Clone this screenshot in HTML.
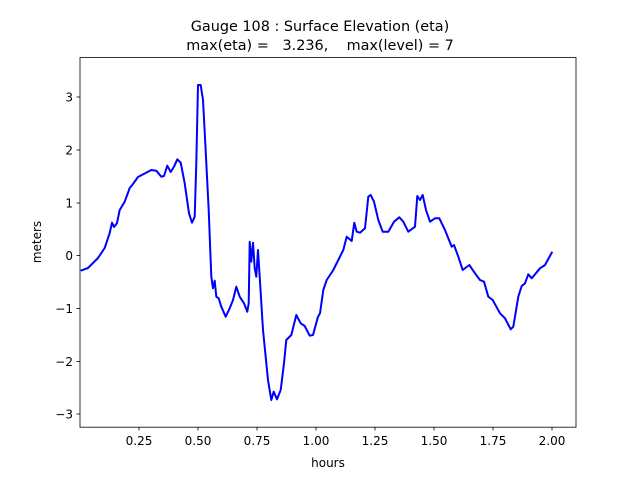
<!DOCTYPE html>
<html><head><style>
body{margin:0;background:#fff}
svg{display:block}
text{font-family:"DejaVu Sans","Liberation Sans",sans-serif;fill:#000}
</style></head><body>
<svg width="640" height="480" xmlns="http://www.w3.org/2000/svg">
<rect width="640" height="480" fill="#fff"/>
<text x="320" y="31" font-size="14.4" text-anchor="middle">Gauge 108 : Surface Elevation (eta)</text>
<text x="320" y="50" font-size="14.4" text-anchor="middle" xml:space="preserve">max(eta) =   3.236,    max(level) = 7</text>
<g stroke="#000" stroke-width="0.8">
<line x1="139" y1="427" x2="139" y2="430.5"/><line x1="198" y1="427" x2="198" y2="430.5"/><line x1="257" y1="427" x2="257" y2="430.5"/><line x1="316" y1="427" x2="316" y2="430.5"/><line x1="375" y1="427" x2="375" y2="430.5"/><line x1="434" y1="427" x2="434" y2="430.5"/><line x1="493" y1="427" x2="493" y2="430.5"/><line x1="552" y1="427" x2="552" y2="430.5"/>
<line x1="76.5" y1="97" x2="80" y2="97"/><line x1="76.5" y1="150" x2="80" y2="150"/><line x1="76.5" y1="203" x2="80" y2="203"/><line x1="76.5" y1="255.5" x2="80" y2="255.5"/><line x1="76.5" y1="308.5" x2="80" y2="308.5"/><line x1="76.5" y1="361.5" x2="80" y2="361.5"/><line x1="76.5" y1="414" x2="80" y2="414"/>
</g>
<g font-size="12" text-anchor="middle">
<text x="139" y="445">0.25</text><text x="198" y="445">0.50</text><text x="257" y="445">0.75</text><text x="316" y="445">1.00</text><text x="375" y="445">1.25</text><text x="434" y="445">1.50</text><text x="493" y="445">1.75</text><text x="552" y="445">2.00</text>
<text x="328" y="467">hours</text>
</g>
<g font-size="12" text-anchor="end">
<text x="73" y="101.5">3</text><text x="73" y="154.5">2</text><text x="73" y="207.5">1</text><text x="73" y="260">0</text><text x="73" y="313">−1</text><text x="73" y="366">−2</text><text x="73" y="418.5">−3</text>
</g>
<text transform="translate(41,242) rotate(-90)" font-size="12" text-anchor="middle">meters</text>
<polyline fill="none" stroke="#0000ff" stroke-width="2" stroke-linejoin="round" points="80.7,270.7 88,268 98,258 104.7,248 109.7,233 112,222.7 114,227 117,223 119.7,210 124.7,201.7 129.7,188 133,184 138,177 151.3,170 156.3,170.7 161.3,176.7 164,176 167.3,165.7 170.7,172 174,166.7 177.3,159.3 180.7,162.7 184.7,183.3 189,213.3 192,222.7 194.7,216.7 196.3,163.3 198,85 200.7,85 203,100 205.3,143.3 208.7,210 211.3,276.7 213,288.3 214.7,280.7 216.3,296.7 218.7,298.3 221.3,306.7 225.7,316.7 229.7,308.3 233,300 236.3,286.7 239.7,296.7 244,303.3 247.3,311.7 248.7,303.3 249.7,241.7 251.3,261.7 253,242.7 254.7,268.3 256.3,276.7 258,250 259.7,276.7 263,330 268,380 271.3,400 273.7,391.7 277,399.3 280.7,390 284,363.3 286.3,340 291.3,335 296.3,315 300.7,323.3 304.7,326 309.7,335.7 313,335 318,316.7 320,313.3 323.3,290 326.7,280 333.3,270 343.3,250 346.7,236.7 351.7,241 354.3,222.7 356.7,231.7 360,232.7 365,228.3 368.3,196.7 370.7,195 374,201.7 378.3,220 382.7,231.7 388.3,231.7 394,221.7 399.3,217.3 403.3,221.7 408.3,231.7 415,226.7 417.3,196 420,200 422.7,195 426,210 430,221.7 435,218.3 439.3,218.3 445,230 451.7,246.7 454,245 458.3,256.7 462.7,270 469.3,265 475,273.3 480,280 484,281.7 488.3,296.7 492.7,300 500,313.3 505,318.3 510.7,329.3 513.3,326.7 518.3,296.7 521.7,286 525,283.3 528.3,274.3 531.7,278.3 540,268.3 545,265 552.3,251.7"/>
<rect x="80" y="57.6" width="496" height="369.6" fill="none" stroke="#000" stroke-width="0.8"/>
</svg>
</body></html>
